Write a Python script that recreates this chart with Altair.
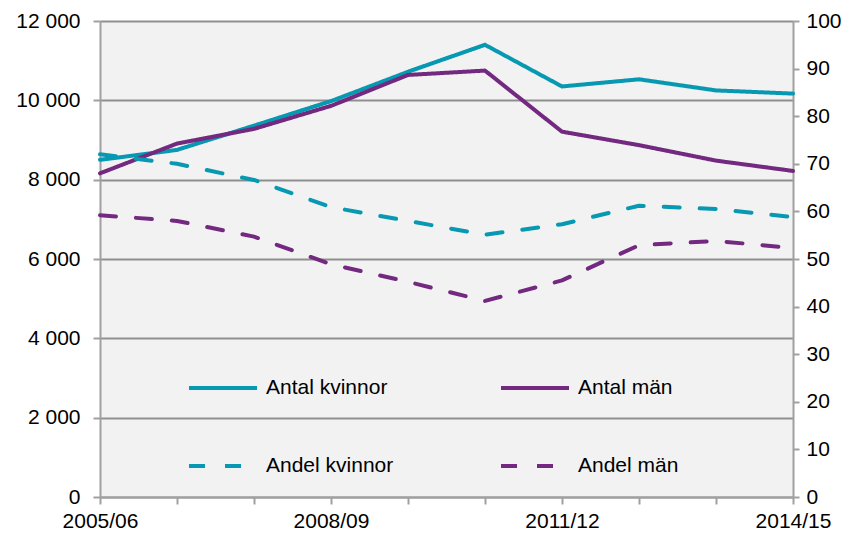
import altair as alt
import pandas as pd

years = ["2005/06", "2006/07", "2007/08", "2008/09", "2009/10",
         "2010/11", "2011/12", "2012/13", "2013/14", "2014/15"]
antal_kvinnor = [8500, 8750, 9360, 9980, 10720, 11400, 10350, 10530, 10250, 10170]
antal_man = [8160, 8910, 9280, 9860, 10640, 10750, 9210, 8870, 8480, 8220]
andel_kvinnor = [72.0, 70.0, 66.6, 60.9, 58.0, 55.1, 57.3, 61.2, 60.5, 58.8]
andel_man = [59.2, 58.0, 54.7, 48.9, 45.2, 41.2, 45.5, 52.9, 53.8, 52.3]

# legend is filled column by column: column 1 = kvinnor, column 2 = män
series_names = ["Antal kvinnor", "Andel kvinnor", "Antal män", "Andel män"]
shown_labels = ["2005/06", "2008/09", "2011/12", "2014/15"]

rows = []
for name, vals in [("Antal kvinnor", antal_kvinnor), ("Antal män", antal_man),
                   ("Andel kvinnor", andel_kvinnor), ("Andel män", andel_man)]:
    for y, v in zip(years, vals):
        rows.append({"year": y, "series": name, "value": v,
                     "kind": "antal" if name.startswith("Antal") else "andel"})
df = pd.DataFrame(rows)

TEAL = "#0798b2"
PURPLE = "#72297f"
GRAY = "#8f8f8f"
FONT = "Liberation Sans"
FS = 21

legend = alt.Legend(
    title=None, orient="none", legendX=87, legendY=331, columns=2,
    symbolType="stroke", symbolSize=4624, symbolStrokeWidth=4,
    labelFontSize=FS, labelFont=FONT, labelColor="#000000",
    labelOffset=7, columnPadding=99, rowPadding=32, padding=0,
    labelLimit=300,
)

color = alt.Color(
    "series:N",
    scale=alt.Scale(domain=series_names, range=[TEAL, TEAL, PURPLE, PURPLE]),
    legend=legend,
)
dash = alt.StrokeDash(
    "series:N",
    scale=alt.Scale(domain=series_names, range=[[1, 0], [16, 20], [1, 0], [16, 20]]),
    legend=legend,
)

x = alt.X(
    "year:O",
    scale=alt.Scale(type="point", padding=0),
    axis=alt.Axis(
        title=None, labelAngle=0, grid=False,
        labelExpr="indexof(" + str(shown_labels) + ", datum.value) >= 0 ? datum.value : ''",
        tickSize=7, labelPadding=6,
    ),
)

base = alt.Chart(df).encode(x=x, color=color, strokeDash=dash)

left = base.transform_filter(alt.datum.kind == "antal").mark_line(
    strokeWidth=4, strokeCap="round", strokeJoin="round"
).encode(
    y=alt.Y(
        "value:Q",
        scale=alt.Scale(domain=[0, 12000], nice=False),
        axis=alt.Axis(
            title=None, values=[0, 2000, 4000, 6000, 8000, 10000, 12000],
            labelExpr="replace(format(datum.value, ',d'), ',', ' ')",
            grid=True, gridColor=GRAY, gridWidth=2, tickSize=7, labelPadding=13,
        ),
    )
)

right = base.transform_filter(alt.datum.kind == "andel").mark_line(
    strokeWidth=4, strokeCap="round", strokeJoin="round"
).encode(
    y=alt.Y(
        "value:Q",
        scale=alt.Scale(domain=[0, 100], nice=False),
        axis=alt.Axis(
            title=None, orient="right", values=list(range(0, 101, 10)),
            grid=False, tickSize=6, labelPadding=7,
        ),
    )
)

chart = alt.layer(left, right).resolve_scale(y="independent").properties(
    width=693, height=476,
    autosize=alt.AutoSizeParams(type="none"),
    padding={"left": 92, "top": 13, "right": 48, "bottom": 34},
    background="#ffffff",
).configure_view(
    fill="#f2f2f2", stroke=None
).configure_axis(
    labelFont=FONT, labelFontSize=FS, labelColor="#000000",
    domainColor="#a0a0a0", domainWidth=2, tickColor="#a0a0a0", tickWidth=2,
)

chart.save("out.html", embed_options={"renderer": "svg", "actions": False})
